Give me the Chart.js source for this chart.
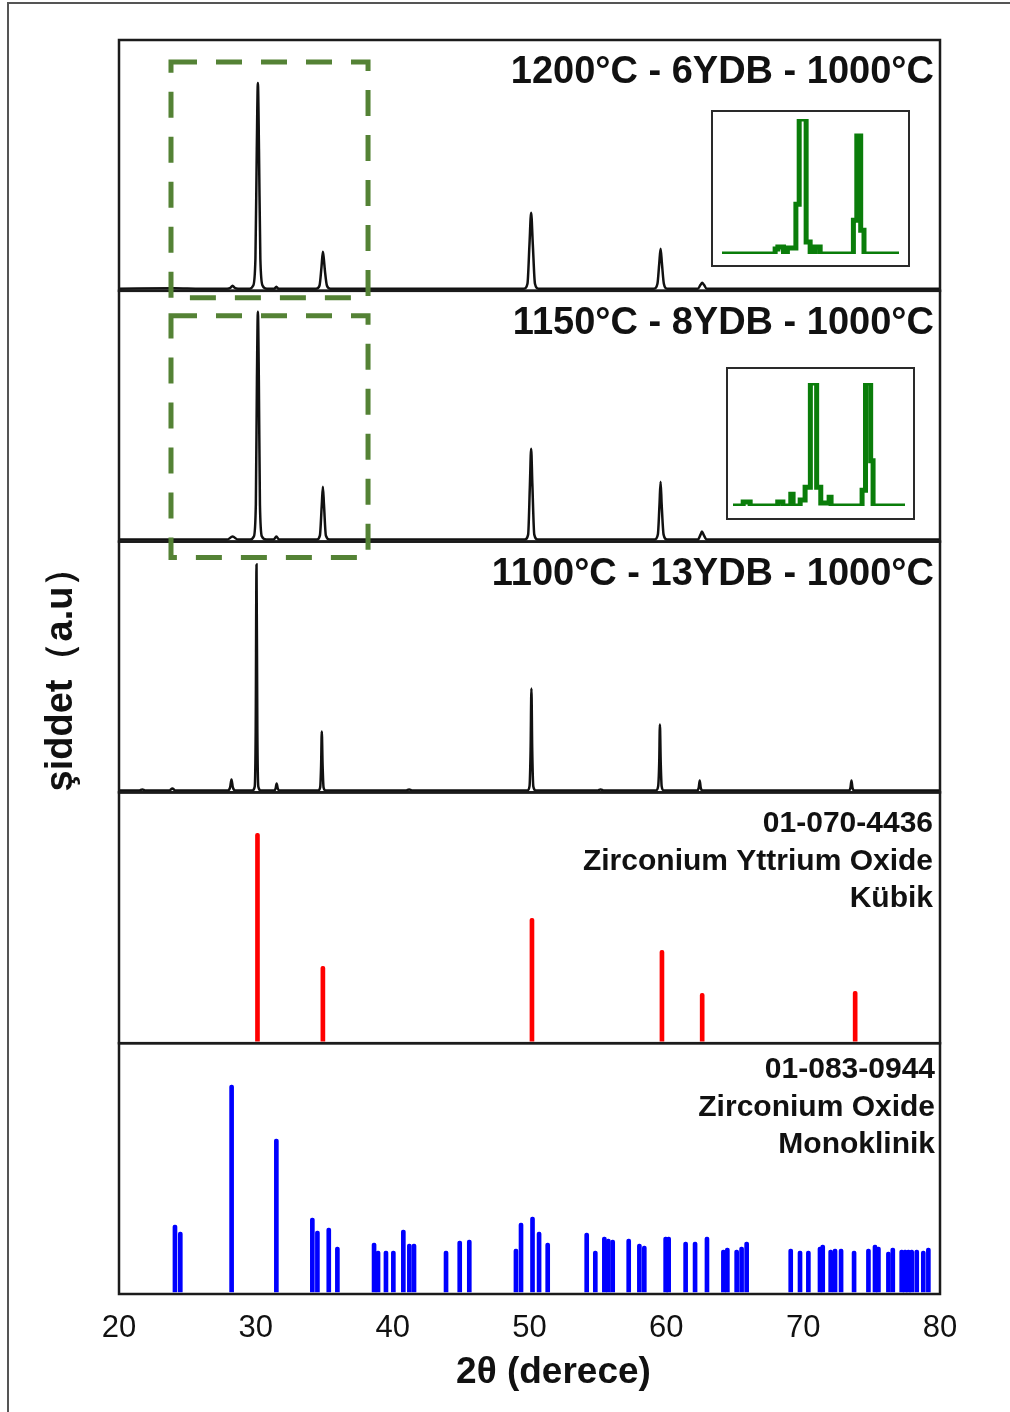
<!DOCTYPE html>
<html>
<head>
<meta charset="utf-8">
<title>XRD</title>
<script src="https://cdn.jsdelivr.net/npm/chart.js@4.4.1/dist/chart.umd.min.js"></script>
<style>
  body { margin: 0; background: #fff; }
  #wrap { position: relative; width: 1010px; height: 1412px; overflow: hidden; }
  #xrdChart { position: absolute; left: 0; top: 0; }
  #frame { position: absolute; left: 7px; top: 2px; right: -10px; bottom: -10px;
           border-top: 2px solid #555; border-left: 2px solid #555; }
  .inset { position: absolute; box-sizing: border-box; border: 2px solid #2a2a2a; background: #fff; }
  .inset canvas { display: block; }
</style>
</head>
<body>
<div id="wrap">
  <canvas id="xrdChart" width="1010" height="1412"></canvas>
  <div id="frame"></div>
  <div class="inset" style="left:711px;top:110px;width:199px;height:157px">
    <canvas id="inset1200" width="195" height="153"></canvas>
  </div>
  <div class="inset" style="left:726px;top:367px;width:189px;height:153px">
    <canvas id="inset1150" width="185" height="149"></canvas>
  </div>
</div>
<script>
// 2θ axis
const thetaMin = 20;
const thetaMax = 80;
const thetaStep = 10;

// measured scans, [2θ, intensity a.u.]
const scan1200 = [
  [20, 0], [24, 0.5], [26, 0], [27.9, 0], [28.15, 1], [28.3, 3], [28.45, 1], [28.7, 0],
  [29.55, 0], [29.8, 3], [29.97, 30], [30.07, 140], [30.15, 206], [30.23, 140], [30.33, 30], [30.5, 3], [30.8, 0],
  [31.35, 0], [31.5, 2], [31.65, 0],
  [34.4, 0], [34.65, 3], [34.8, 22], [34.9, 37], [34.97, 30], [35.05, 18], [35.2, 3], [35.45, 0],
  [49.6, 0], [49.85, 5], [50.0, 45], [50.12, 76], [50.24, 45], [50.4, 5], [50.65, 0],
  [59.1, 0], [59.35, 5], [59.48, 25], [59.58, 40], [59.68, 25], [59.82, 5], [60.05, 0],
  [62.3, 0], [62.5, 4], [62.62, 6], [62.75, 4], [62.95, 0],
  [80, 0]
];
const scan1150 = [
  [20, 0], [27.9, 0], [28.3, 3], [28.7, 0],
  [29.6, 0], [29.85, 3], [30.0, 35], [30.08, 160], [30.15, 228], [30.22, 160], [30.3, 35], [30.45, 3], [30.75, 0],
  [31.3, 0], [31.5, 3], [31.7, 0],
  [34.45, 0], [34.68, 4], [34.82, 35], [34.9, 53], [34.98, 35], [35.12, 4], [35.4, 0],
  [49.65, 0], [49.9, 5], [50.03, 55], [50.12, 91], [50.21, 55], [50.35, 5], [50.6, 0],
  [59.15, 0], [59.38, 5], [59.5, 35], [59.58, 58], [59.66, 35], [59.8, 5], [60.05, 0],
  [62.3, 0], [62.5, 5], [62.6, 8], [62.72, 5], [62.95, 0],
  [80, 0]
];
const scan1100 = [
  [20, 0], [21.5, 0], [21.7, 1], [21.9, 0], [23.7, 0], [23.9, 2], [24.1, 0],
  [27.95, 0], [28.12, 3], [28.22, 11], [28.32, 3], [28.5, 0],
  [29.75, 0], [29.92, 4], [29.99, 60], [30.05, 226], [30.11, 60], [30.18, 4], [30.35, 0],
  [31.35, 0], [31.45, 2], [31.52, 7], [31.6, 2], [31.7, 0],
  [34.55, 0], [34.7, 3], [34.77, 25], [34.82, 59], [34.88, 25], [34.95, 3], [35.1, 0],
  [41, 0], [41.2, 1], [41.4, 0],
  [49.85, 0], [50.0, 4], [50.08, 40], [50.14, 102], [50.2, 40], [50.28, 4], [50.45, 0],
  [55, 0], [55.2, 1], [55.4, 0],
  [59.25, 0], [59.4, 4], [59.48, 28], [59.53, 66], [59.59, 28], [59.66, 4], [59.8, 0],
  [62.25, 0], [62.37, 3], [62.44, 10], [62.51, 3], [62.63, 0],
  [73.35, 0], [73.46, 3], [73.53, 10], [73.6, 3], [73.72, 0],
  [80, 0]
];

// enlarged 23-38° windows, raw step data
const zoom1200 = [
  [23.30, 0], [27.81, 5], [28.04, 7], [28.52, 0], [28.85, 6], [29.57, 50], [29.85, 136],
  [30.44, 12], [30.78, 0], [31.20, 7], [31.63, 0], [34.45, 34], [34.74, 119], [35.07, 24],
  [35.35, 0], [38.32, 0]
];
const zoom1150 = [
  [23.10, 0], [23.99, 4], [24.60, 0], [27.01, 4], [27.46, 0], [28.15, 12], [28.35, 0],
  [28.97, 6], [29.40, 19], [29.86, 125], [30.41, 19], [30.77, 3], [31.50, 9], [31.67, 0],
  [34.38, 16], [34.68, 125], [35.13, 46], [35.34, 0], [38.13, 0]
];

// PDF 01-070-4436, cubic
const cubicTheta = [30.12, 34.9, 50.18, 59.68, 62.62, 73.8];
const cubicInt = [208, 75, 123, 91, 48, 50];

// PDF 01-083-0944, monoclinic
const monoTheta = [24.09, 24.48, 28.23, 31.5, 34.13, 34.5, 35.33, 35.96, 38.64, 38.93, 39.51, 40.05,
  40.78, 41.22, 41.56, 43.9, 44.9, 45.6, 49.01, 49.38, 50.22, 50.7, 51.33, 54.18, 54.81, 55.47,
  55.76, 56.08, 57.25, 58.03, 58.39, 59.95, 60.17, 61.41, 62.1, 62.97, 64.17, 64.46, 65.14, 65.5,
  65.87, 69.09, 69.77, 70.38, 71.23, 71.43, 72.01, 72.33, 72.77, 73.72, 74.77, 75.25, 75.5, 76.23,
  76.55, 77.2, 77.45, 77.69, 77.93, 78.3, 78.78, 79.15];
const monoInt = [67, 60, 207, 153, 74, 61, 64, 45, 49, 41, 41, 41,
  62, 48, 48, 41, 51, 52, 43, 69, 75, 60, 49, 59, 41, 55,
  53, 52, 53, 48, 46, 55, 55, 50, 50, 55, 42, 44, 42, 45,
  50, 43, 41, 41, 45, 47, 42, 43, 43, 41, 43, 47, 45, 40,
  44, 42, 42, 42, 42, 42, 41, 44];

// texts
const scanTitles = ['1200°C - 6YDB - 1000°C', '1150°C - 8YDB - 1000°C', '1100°C - 13YDB - 1000°C'];
const cubicCard = ['01-070-4436', 'Zirconium Yttrium Oxide', 'Kübik'];
const monoCard = ['01-083-0944', 'Zirconium Oxide', 'Monoklinik'];
const xTitle = '2θ (derece)';
const yTitle = 'şiddet（a.u）';

// dashed windows around the enlarged region: [2θ from, 2θ to], [top, bottom] on the panel scale
const windowTheta = [23.8, 38.2];
const window1200 = [227, -9];
const window1150 = [224, -18];

const FONT = "'Liberation Sans', Arial, Helvetica, sans-serif";
const panelIds = ['yMono', 'yCubic', 'y1100', 'y1150', 'y1200']; // bottom to top
const panelMin = -2;
const panelMax = 249;

const toXY = pts => pts.map(([x, y]) => ({ x, y }));
const pairs = (xs, ys) => xs.map((x, i) => ({ x, y: ys[i] }));

function scanSet(pts, axis) {
  return {
    type: 'line', data: toXY(pts), yAxisID: axis,
    borderColor: '#111', borderWidth: 2.5, pointRadius: 0,
    cubicInterpolationMode: 'monotone', fill: false
  };
}
function stickSet(xs, ys, axis, color) {
  return {
    type: 'bar', data: pairs(xs, ys), yAxisID: axis,
    backgroundColor: color, barThickness: 4, grouped: false,
    borderRadius: { topLeft: 2, topRight: 2 }, borderSkipped: 'bottom'
  };
}

const scales = {
  x: {
    type: 'linear', min: thetaMin, max: thetaMax, offset: false,
    ticks: { stepSize: thetaStep, padding: 16, color: '#111', font: { family: FONT, size: 31 } },
    grid: { display: false, drawTicks: false, offset: false },
    border: { display: false },
    afterFit: s => { s.height = 118; }
  }
};
panelIds.forEach((id, i) => {
  scales[id] = {
    type: 'linear', position: 'left', stack: 'panels', stackWeight: 1, weight: i,
    min: panelMin, max: panelMax,
    ticks: { display: false }, grid: { display: false }, border: { display: false },
    afterFit: s => { s.width = 119; }
  };
});

// box around every panel
const panelFrames = {
  id: 'panelFrames',
  afterDatasetsDraw(chart) {
    const { ctx } = chart;
    const x = chart.scales.x;
    ctx.save();
    ctx.lineWidth = 2.5;
    ctx.strokeStyle = '#1b1b1b';
    panelIds.forEach(id => {
      const s = chart.scales[id];
      ctx.strokeRect(x.left, s.top, x.right - x.left, s.bottom - s.top);
    });
    ctx.restore();
  }
};

// green dashed windows
const dashedWindows = {
  id: 'dashedWindows',
  afterDatasetsDraw(chart) {
    const { ctx } = chart;
    const x = chart.scales.x;
    ctx.save();
    ctx.lineWidth = 5;
    ctx.strokeStyle = '#548235';
    ctx.setLineDash([26, 19]);
    [['y1200', window1200], ['y1150', window1150]].forEach(([id, yr]) => {
      const s = chart.scales[id];
      const l = x.getPixelForValue(windowTheta[0]), r = x.getPixelForValue(windowTheta[1]);
      const t = s.getPixelForValue(yr[0]), b = s.getPixelForValue(yr[1]);
      ctx.strokeRect(l, t, r - l, b - t);
    });
    ctx.restore();
  }
};

// panel titles, card names and axis titles
const chartTexts = {
  id: 'chartTexts',
  afterDraw(chart) {
    const { ctx, chartArea } = chart;
    const x = chart.scales.x;
    ctx.save();
    ctx.fillStyle = '#111';
    ctx.textBaseline = 'alphabetic';
    ctx.textAlign = 'right';

    ctx.font = `bold 38px ${FONT}`;
    ['y1200', 'y1150', 'y1100'].forEach((id, i) => {
      ctx.fillText(scanTitles[i], x.right - 6, chart.scales[id].top + 43);
    });

    ctx.font = `bold 30px ${FONT}`;
    cubicCard.forEach((t, i) => ctx.fillText(t, x.right - 7, chart.scales.yCubic.top + 40 + i * 37.5));
    monoCard.forEach((t, i) => ctx.fillText(t, x.right - 5, chart.scales.yMono.top + 35 + i * 37.5));

    ctx.textAlign = 'center';
    ctx.font = `bold 37px ${FONT}`;
    ctx.fillText(xTitle, (x.left + x.right) / 2 + 24, 1383);

    ctx.translate(62, (chartArea.top + chartArea.bottom) / 2 + 3);
    ctx.rotate(-Math.PI / 2);
    ctx.textBaseline = 'middle';
    ctx.font = `bold 38px ${FONT}`;
    ctx.fillText(yTitle, 0, 0);
    ctx.restore();
  }
};

new Chart(document.getElementById('xrdChart'), {
  type: 'line',
  data: {
    datasets: [
      scanSet(scan1200, 'y1200'),
      scanSet(scan1150, 'y1150'),
      scanSet(scan1100, 'y1100'),
      stickSet(cubicTheta, cubicInt, 'yCubic', '#ff0000'),
      stickSet(monoTheta, monoInt, 'yMono', '#0000ff')
    ]
  },
  options: {
    responsive: false,
    animation: false,
    events: [],
    layout: { padding: { top: 40, right: 70, bottom: 0, left: 0 } },
    plugins: { legend: { display: false }, tooltip: { enabled: false } },
    scales
  },
  plugins: [panelFrames, dashedWindows, chartTexts]
});

// enlarged windows: each value holds from its own 2θ up to the next point
function insetChart(id, pts, pad) {
  const ys = pts.map(p => p[1]);
  return new Chart(document.getElementById(id), {
    type: 'line',
    data: {
      datasets: [{
        data: toXY(pts), stepped: 'before',
        borderColor: '#0a7d0a', borderWidth: 5, pointRadius: 0, fill: false
      }]
    },
    options: {
      responsive: false,
      animation: false,
      events: [],
      layout: { padding: pad },
      plugins: { legend: { display: false }, tooltip: { enabled: false } },
      scales: {
        x: { type: 'linear', display: false, min: pts[0][0], max: pts[pts.length - 1][0] },
        y: { display: false, min: 0, max: Math.max(...ys) }
      }
    }
  });
}
insetChart('inset1200', zoom1200, { left: 9, right: 9, top: 7, bottom: 11 });
insetChart('inset1150', zoom1150, { left: 5, right: 8, top: 14, bottom: 12 });
</script>
</body>
</html>
